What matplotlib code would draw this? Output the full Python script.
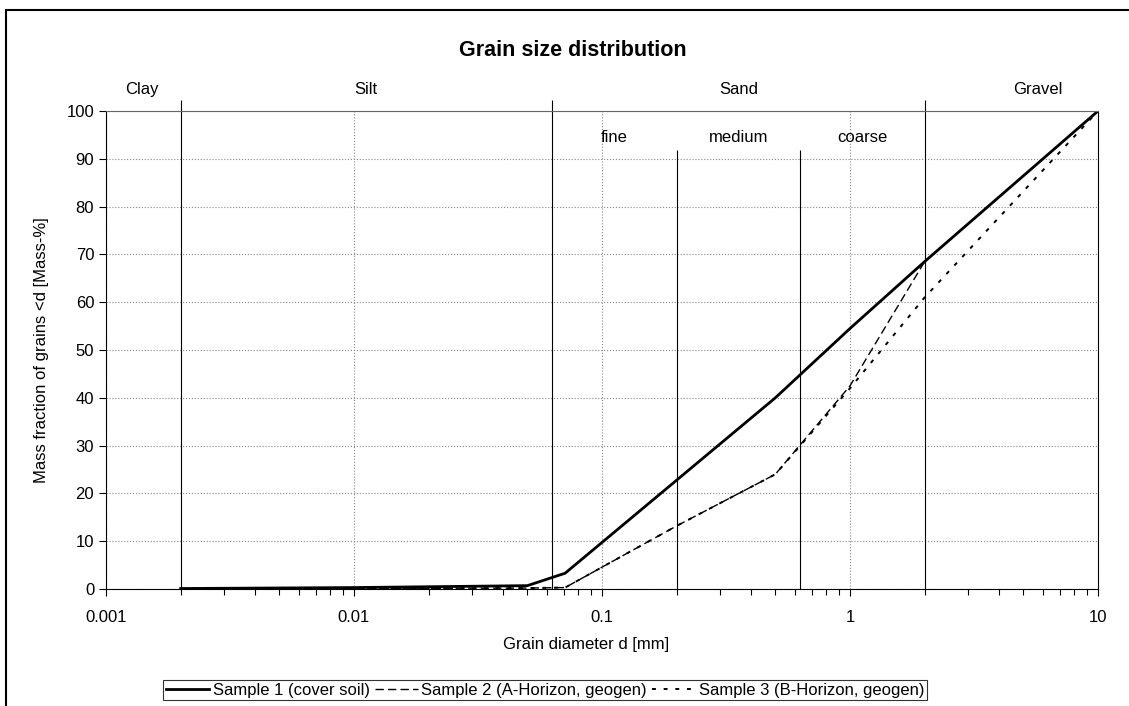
import numpy as np
import matplotlib.pyplot as plt
from matplotlib.patches import Rectangle
from matplotlib.ticker import LogLocator, NullFormatter, FixedLocator

plt.rcParams['font.family'] = ['Liberation Sans', 'DejaVu Sans']
plt.rcParams['font.size'] = 12

# Datos (tamaño de grano en mm, fracción acumulada en %)
d1 = [0.002, 0.01, 0.05, 0.071, 0.5, 1, 2, 10]
s1 = [0.1, 0.3, 0.7, 3.3, 40, 54.5, 68.5, 100]

d2 = [0.002, 0.01, 0.05, 0.071, 0.2, 0.5, 1, 2, 10]
s2 = [0.0, 0.1, 0.2, 0.3, 13.2, 24, 42.5, 68.5, 100]

d3 = [0.002, 0.01, 0.05, 0.071, 0.2, 0.5, 1, 2, 10]
s3 = [0.0, 0.1, 0.2, 0.3, 13.2, 24, 42, 61, 100]

labels = ["Sample 1 (cover soil)", "Sample 2 (A-Horizon, geogen)",
          "Sample 3 (B-Horizon, geogen)"]

# Límites de las fracciones
main_bounds = [0.002, 0.063, 2]
sub_bounds = [0.2, 0.63]
main_names = ["Clay", "Silt", "Sand", "Gravel"]
main_pos = [0.0014, 0.0112, 0.355, 5.7]
sub_names = ["fine", "medium", "coarse"]
sub_pos = [0.112, 0.355, 1.12]

fig = plt.figure(figsize=(11.29, 7.06), dpi=100)
ax = fig.add_axes([106 / 1129, 1 - 589 / 706, 992 / 1129, 478 / 706])

ax.plot(d1, s1, color='black', lw=2.0, label=labels[0])
ax.plot(d2, s2, color='black', lw=1.0, dashes=(6, 3), label=labels[1])
ax.plot(d3, s3, color='black', lw=1.4, dashes=(2, 4), label=labels[2])

ax.set_xscale('log')
ax.set_xlim(0.001, 10)
ax.set_ylim(0, 100)
ax.set_yticks(range(0, 101, 10))
ax.xaxis.set_major_locator(FixedLocator([0.001, 0.01, 0.1, 1, 10]))
ax.set_xticklabels(["0.001", "0.01", "0.1", "1", "10"])
ax.xaxis.set_minor_locator(LogLocator(base=10, subs=np.arange(2, 10)))
ax.xaxis.set_minor_formatter(NullFormatter())
ax.tick_params(axis='both', which='major', direction='out', length=5, width=0.8, labelsize=12)
ax.tick_params(axis='x', which='minor', direction='out', length=4, width=0.8)
ax.tick_params(axis='x', which='major', pad=10)

ax.grid(True, which='major', axis='both', color='#888888', linestyle=':', lw=0.8)
ax.set_axisbelow(True)
ax.spines['top'].set_color('#666666')
ax.spines['top'].set_linewidth(0.8)
for s in ['left', 'bottom', 'right']:
    ax.spines[s].set_linewidth(0.8)

# Líneas de límites de fracción
ax.vlines(main_bounds, 0, 102.3, color='black', lw=0.8, clip_on=False)
ax.vlines(sub_bounds, 0, 91.8, color='black', lw=0.8)

for name, x in zip(main_names, main_pos):
    ax.text(x, 103, name, ha='center', va='bottom', fontsize=12, clip_on=False)
for name, x in zip(sub_names, sub_pos):
    ax.text(x, 94.5, name, ha='center', va='center', fontsize=12)

fig.text(573 / 1129, 1 - 50 / 706, "Grain size distribution", ha='center', va='center',
         fontsize=15.5, fontweight='bold')
fig.text(586 / 1129, 1 - 645 / 706, "Grain diameter d [mm]", ha='center', va='center', fontsize=12)
fig.text(42 / 1129, 1 - 350 / 706, "Mass fraction of grains <d [Mass-%]", ha='center', va='center',
         rotation=90, fontsize=12)

leg = fig.legend(loc='center', bbox_to_anchor=(545 / 1129, 1 - 690 / 706), ncol=3,
                 frameon=True, fancybox=False, edgecolor='black', fontsize=12,
                 handlelength=2.6, handletextpad=0.2, columnspacing=0.3,
                 borderpad=0.15, borderaxespad=0)
leg.get_frame().set_linewidth(0.8)

# Marco exterior
fig.patches.append(Rectangle((6 / 1129, -0.1), 1.2, 1 - 10 / 706 + 0.1, transform=fig.transFigure,
                             fill=False, edgecolor='black', lw=1.5))

fig.savefig("out.png", dpi=100)
